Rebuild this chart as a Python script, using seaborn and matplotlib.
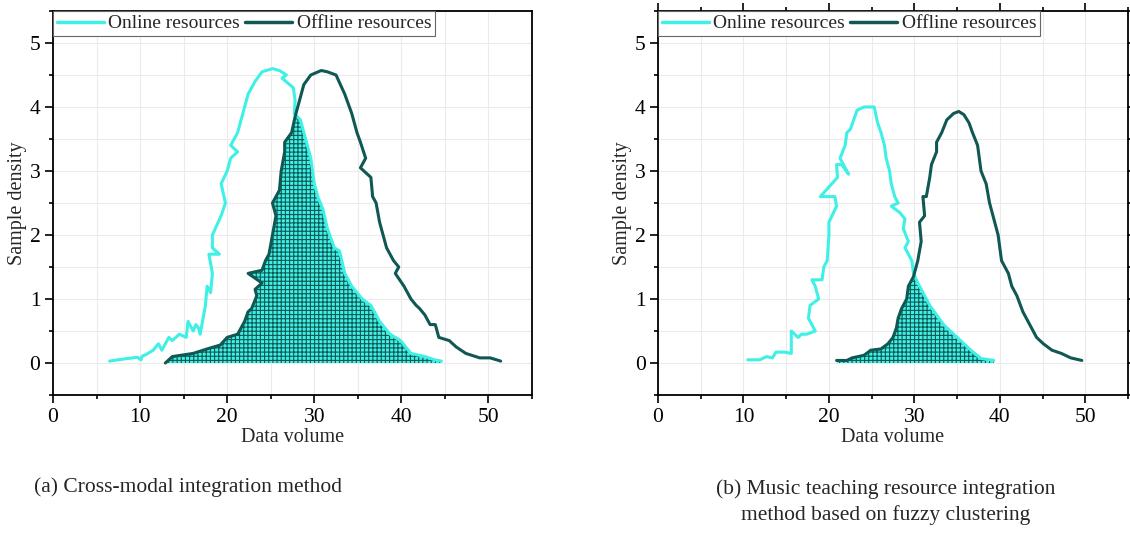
import numpy as np
import pandas as pd
import matplotlib
matplotlib.use("Agg")
import matplotlib.pyplot as plt
import seaborn as sns
from matplotlib.ticker import MultipleLocator

# ---------------- data ----------------
# (a) Cross-modal integration method
a_online_x = [6.5, 8.0, 9.7, 10.1, 10.2, 10.9, 11.5, 12.1, 12.5, 13.3, 13.7, 14.5, 15.3, 15.5, 16.1,
              16.4, 16.7, 16.9, 17.5, 17.7, 18.1, 18.3, 17.9, 19.1, 18.3, 18.3, 19.3, 19.8, 19.3, 20.0,
              20.4, 21.2, 20.4, 21.2, 21.6, 22.0, 22.4, 22.8, 23.2, 24.0, 25.2, 26.0, 26.8, 26.3, 27.6,
              27.8, 27.7, 28.4, 28.8, 29.6, 30.0, 30.4, 31.0, 31.5, 32.3, 32.9, 33.5, 34.3, 35.5, 36.5,
              37.5, 38.7, 39.9, 41.1, 42.7, 43.8, 44.6]
a_online_y = [0.03, 0.06, 0.09, 0.05, 0.1, 0.15, 0.2, 0.3, 0.2, 0.4, 0.35, 0.45, 0.4, 0.65, 0.5,
              0.6, 0.55, 0.45, 0.9, 1.2, 1.1, 1.4, 1.7, 1.7, 1.8, 2.0, 2.3, 2.5, 2.8, 3.0,
              3.2, 3.3, 3.4, 3.6, 3.8, 4.0, 4.2, 4.3, 4.4, 4.55, 4.6, 4.57, 4.5, 4.45, 4.3,
              4.1, 3.9, 3.8, 3.6, 3.2, 2.8, 2.6, 2.4, 2.1, 1.8, 1.75, 1.4, 1.2, 1.0, 0.9,
              0.65, 0.45, 0.35, 0.15, 0.1, 0.05, 0.03]
a_offline_x = [12.9, 13.7, 16.1, 17.7, 19.2, 20.0, 21.2, 21.6, 22.0, 22.4, 22.8, 23.4, 23.2, 24.0, 22.4,
               24.0, 24.4, 24.8, 25.2, 25.6, 25.2, 26.0, 26.2, 26.6, 26.6, 27.4, 27.8, 28.4, 28.8, 29.6,
               30.8, 31.5, 32.5, 33.5, 34.3, 34.9, 35.3, 35.9, 35.3, 36.5, 36.7, 37.1, 37.5, 37.9, 38.3,
               39.1, 39.7, 39.3, 40.3, 41.1, 41.7, 42.1, 42.7, 43.3, 43.9, 44.3, 45.5, 46.3, 47.4, 49.0,
               50.2, 51.4]
a_offline_y = [0.0, 0.1, 0.15, 0.22, 0.28, 0.4, 0.45, 0.55, 0.65, 0.8, 0.85, 1.05, 1.15, 1.25, 1.4,
               1.45, 1.6, 1.7, 2.0, 2.3, 2.5, 2.7, 3.0, 3.3, 3.45, 3.6, 3.85, 4.15, 4.35, 4.5,
               4.57, 4.55, 4.5, 4.2, 3.9, 3.6, 3.45, 3.2, 3.05, 2.9, 2.6, 2.5, 2.2, 2.0, 1.8,
               1.6, 1.5, 1.4, 1.2, 1.0, 0.9, 0.85, 0.75, 0.6, 0.6, 0.4, 0.35, 0.25, 0.15, 0.08,
               0.08, 0.03]
a_crossing = 28.0

# (b) Music teaching resource integration method based on fuzzy clustering
b_online_x = [10.5, 11.9, 12.7, 13.4, 13.8, 14.8, 15.6, 15.6, 16.4, 16.8, 17.4, 18.4, 17.6, 17.8, 18.8,
              18.4, 18.0, 19.2, 19.4, 19.8, 20.0, 20.0, 20.9, 20.7, 19.0, 20.0, 21.0, 20.9, 21.5, 22.3,
              21.3, 21.9, 22.1, 22.5, 22.9, 23.3, 24.1, 25.3, 25.7, 26.1, 26.5, 26.7, 27.1, 27.3, 27.7,
              28.1, 27.3, 28.3, 28.9, 28.7, 29.3, 28.9, 29.7, 29.9, 30.4, 31.0, 31.8, 32.6, 33.4, 34.6,
              35.4, 36.6, 37.8, 39.3]
b_online_y = [0.05, 0.05, 0.1, 0.08, 0.17, 0.17, 0.15, 0.5, 0.4, 0.45, 0.45, 0.5, 0.7, 0.9, 1.0,
              1.2, 1.3, 1.3, 1.5, 1.6, 2.0, 2.2, 2.45, 2.6, 2.6, 2.75, 2.9, 3.1, 3.1, 2.95,
              3.2, 3.4, 3.6, 3.65, 3.8, 3.95, 4.0, 4.0, 3.75, 3.6, 3.4, 3.2, 3.0, 2.8, 2.6,
              2.5, 2.45, 2.35, 2.25, 2.1, 1.9, 1.8, 1.6, 1.4, 1.25, 1.1, 0.9, 0.75, 0.6, 0.45,
              0.35, 0.2, 0.07, 0.04]
b_offline_x = [20.9, 22.1, 22.7, 24.1, 24.9, 26.1, 26.9, 27.5, 27.9, 28.1, 28.5, 29.1, 29.3, 29.9, 30.4,
               30.8, 30.6, 31.2, 31.0, 31.4, 31.8, 32.0, 32.6, 32.6, 33.2, 33.8, 34.6, 35.2, 35.8, 36.4,
               36.8, 37.4, 37.6, 37.8, 38.4, 38.8, 39.4, 39.8, 40.2, 41.0, 41.4, 42.0, 42.7, 43.5, 44.3,
               45.1, 46.1, 47.2, 48.3, 49.6]
b_offline_y = [0.04, 0.04, 0.08, 0.12, 0.2, 0.22, 0.3, 0.4, 0.55, 0.7, 0.85, 1.0, 1.2, 1.35, 1.6,
               1.9, 2.2, 2.3, 2.6, 2.6, 2.9, 3.1, 3.3, 3.45, 3.6, 3.8, 3.9, 3.93, 3.88, 3.75,
               3.6, 3.4, 3.2, 3.0, 2.8, 2.5, 2.2, 2.0, 1.6, 1.4, 1.2, 1.05, 0.8, 0.6, 0.4,
               0.3, 0.2, 0.15, 0.08, 0.04]
b_crossing = 30.1

series_names = ["Online resources", "Offline resources"]
x_label = "Data volume"
y_label = "Sample density"
captions = ["(a) Cross-modal integration method",
            "(b) Music teaching resource integration\nmethod based on fuzzy clustering"]

# ---------------- style ----------------
CYAN = "#3FF0E6"
DARK = "#0F5853"

sns.set_theme(style="ticks")
plt.rcParams["font.family"] = ["Liberation Serif", "DejaVu Serif"]
plt.rcParams["hatch.linewidth"] = 0.8
plt.rcParams["axes.edgecolor"] = "black"

W, H = 1130, 538
fig = plt.figure(figsize=(W / 100, H / 100), dpi=100)
ax_a = fig.add_axes([53 / W, 1 - 395 / H, (532 - 53) / W, (395 - 11) / H])
ax_b = fig.add_axes([658 / W, 1 - 395 / H, (1128 - 658) / W, (395 - 11) / H])


def draw_panel(ax, on_x, on_y, off_x, off_y, xc, mirror_ticks):
    on_x, on_y = np.asarray(on_x), np.asarray(on_y)
    off_x, off_y = np.asarray(off_x), np.asarray(off_y)

    # overlap region (left edge = offline rising side, right edge = online falling side)
    i_off = np.arange(len(off_x)) < np.argmax(off_y)
    m_off = i_off & (off_x < xc)
    i_on = np.arange(len(on_x)) > np.argmax(on_y)
    m_on = i_on & (on_x > xc)
    px = np.r_[off_x[m_off][0], off_x[m_off], on_x[m_on], on_x[m_on][-1]]
    py = np.r_[0.0, off_y[m_off], on_y[m_on], 0.0]
    ax.fill(px, py, facecolor=CYAN, edgecolor=DARK, hatch="++++", linewidth=0, zorder=2)

    sns.lineplot(x=on_x, y=on_y, sort=False, estimator=None, color=CYAN, linewidth=2.2,
                 ax=ax, label=series_names[0], zorder=3)
    sns.lineplot(x=off_x, y=off_y, sort=False, estimator=None, color=DARK, linewidth=2.2,
                 ax=ax, label=series_names[1], zorder=4)

    ax.set_xlim(0, 55)
    ax.set_ylim(-0.5, 5.5)
    ax.xaxis.set_major_locator(MultipleLocator(10))
    ax.xaxis.set_minor_locator(MultipleLocator(5))
    ax.yaxis.set_major_locator(MultipleLocator(1))
    ax.yaxis.set_minor_locator(MultipleLocator(0.5))
    ax.grid(True, which="both", color="#ebebeb", linewidth=0.8, zorder=0)
    ax.set_axisbelow(True)
    ax.tick_params(which="both", direction="out", top=mirror_ticks, right=mirror_ticks,
                   colors="black", labelsize=15.5, width=1.2, pad=3)
    ax.tick_params(which="major", length=6)
    ax.tick_params(which="minor", length=3)
    for s in ax.spines.values():
        s.set_linewidth(1.3)
        s.set_color("black")
    ax.set_xlabel(x_label, fontsize=14.5, labelpad=1)
    ax.set_ylabel(y_label, fontsize=14.5, labelpad=2)

    leg = ax.legend(loc="upper left", bbox_to_anchor=(0, 1), borderaxespad=0, ncol=2,
                    fontsize=14, handlelength=2.4, handletextpad=0.25, columnspacing=0.25,
                    borderpad=0.2, frameon=True, fancybox=False, framealpha=1,
                    edgecolor="#666666")
    leg.get_frame().set_linewidth(0.8)
    for ln in leg.get_lines():
        ln.set_linewidth(2.5)


draw_panel(ax_a, a_online_x, a_online_y, a_offline_x, a_offline_y, a_crossing, False)
draw_panel(ax_b, b_online_x, b_online_y, b_offline_x, b_offline_y, b_crossing, True)

fig.text(188 / W, 1 - 487 / H, captions[0], ha="center", va="center", fontsize=15.5)
fig.text(886 / W, 1 - 502.5 / H, captions[1], ha="center", va="center", fontsize=15.5,
         multialignment="center", linespacing=1.4)

fig.savefig("out.png", dpi=100)
